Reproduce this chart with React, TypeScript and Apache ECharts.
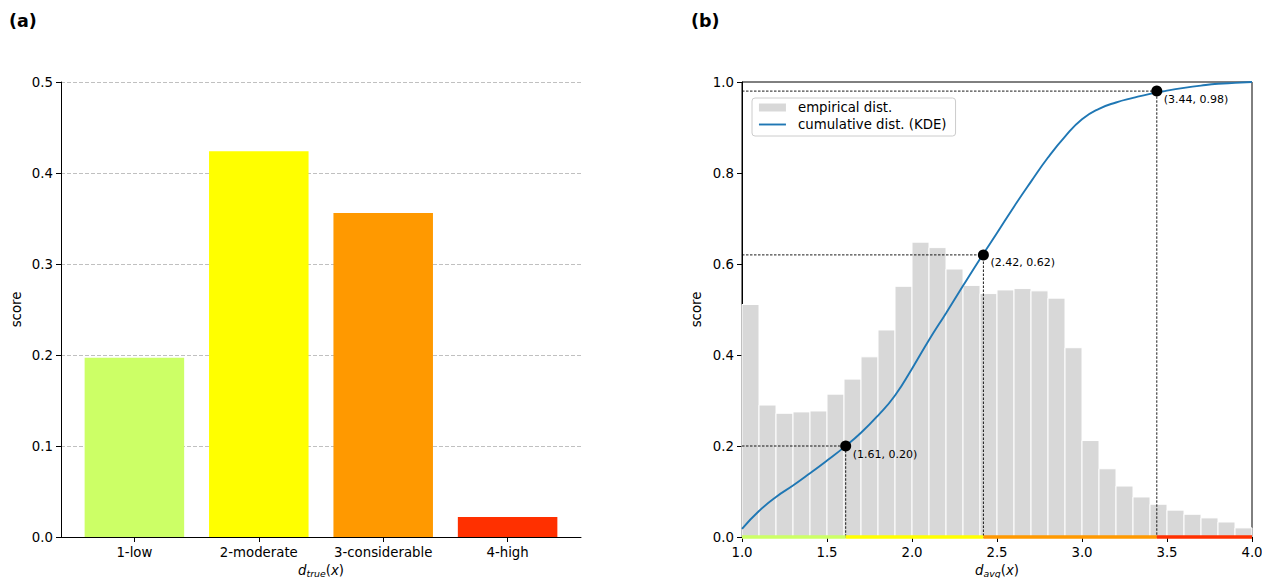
import React, { useEffect, useRef } from "react";
import * as echarts from "echarts";

// ---------- data: panel (a) ----------
const categories = ["1-low", "2-moderate", "3-considerable", "4-high"];
const trueScores = [0.197, 0.424, 0.356, 0.022];
const dangerColors = ["#ccff66", "#ffff00", "#ff9900", "#ff3000"];
const leftYTicks = [0, 0.1, 0.2, 0.3, 0.4, 0.5];

// ---------- data: panel (b) ----------
const histEdges = [
  1.0, 1.1, 1.2, 1.3, 1.4, 1.5, 1.6, 1.7, 1.8, 1.9, 2.0, 2.1, 2.2, 2.3, 2.4, 2.5,
  2.6, 2.7, 2.8, 2.9, 3.0, 3.1, 3.2, 3.3, 3.4, 3.5, 3.6, 3.7, 3.8, 3.9, 4.0,
];
const histValues = [
  0.511, 0.29, 0.272, 0.275, 0.277, 0.314, 0.347, 0.396, 0.455, 0.551, 0.648,
  0.636, 0.589, 0.553, 0.535, 0.543, 0.546, 0.541, 0.525, 0.416, 0.212, 0.15,
  0.112, 0.088, 0.072, 0.059, 0.05, 0.042, 0.033, 0.02,
];
const cdfX = [
  1.0, 1.1, 1.2, 1.3, 1.4, 1.5, 1.6, 1.7, 1.8, 1.9, 2.0, 2.1, 2.2, 2.3, 2.4, 2.5,
  2.6, 2.7, 2.8, 2.9, 3.0, 3.1, 3.2, 3.3, 3.4, 3.5, 3.6, 3.7, 3.8, 3.9, 4.0,
];
const cdfY = [
  0.018, 0.057, 0.088, 0.113, 0.14, 0.168, 0.197, 0.229, 0.267, 0.311, 0.37,
  0.433, 0.492, 0.552, 0.611, 0.668, 0.726, 0.781, 0.834, 0.88, 0.918, 0.941,
  0.955, 0.965, 0.974, 0.981, 0.987, 0.992, 0.996, 0.998, 1.0,
];
const thresholdX = [1.61, 2.42, 3.44];
const thresholdY = [0.2, 0.62, 0.98];
const rightXRange = [1.0, 4.0];
const rightYRange = [0, 1];

const FONT = "DejaVu Sans";
const FS = 13.3;

function mathName(base: string, sub: string) {
  return {
    text: `{i|${base}}{s|${sub}}{n|(}{i|x}{n|)}`,
    rich: {
      i: { fontFamily: FONT, fontStyle: "italic", fontSize: FS, lineHeight: 15, color: "#000" },
      n: { fontFamily: FONT, fontSize: FS, lineHeight: 15, color: "#000" },
      s: {
        fontFamily: FONT,
        fontStyle: "italic",
        fontSize: 9.4,
        lineHeight: 9,
        verticalAlign: "bottom",
        color: "#000",
      },
    },
  };
}

export default function App() {
  const ref = useRef<HTMLDivElement>(null);

  useEffect(() => {
    if (!ref.current) return;
    const chart = echarts.init(ref.current, null, { renderer: "svg" });

    const xName1 = mathName("d", "true");
    const xName2 = mathName("d", "avg");

    const axisLineStyle = { onZero: false, lineStyle: { color: "#000", width: 1 } };
    const tickStyle = { show: true, length: 5, lineStyle: { color: "#000", width: 1 } };
    const labelStyle = { color: "#000", fontFamily: FONT, fontSize: FS };

    // strip segments along the bottom of panel (b)
    const stripBounds = [rightXRange[0], ...thresholdX, rightXRange[1]];
    const stripSeries = dangerColors.map((c, i) => ({
      type: "line",
      xAxisIndex: 1,
      yAxisIndex: 1,
      data: [
        [stripBounds[i], 0],
        [stripBounds[i + 1], 0],
      ],
      symbol: "none",
      clip: false,
      silent: true,
      z: 6,
      lineStyle: { color: c, width: 3.5, cap: "butt" },
    }));

    const guideSeries = thresholdX.map((tx, i) => ({
      type: "line",
      xAxisIndex: 1,
      yAxisIndex: 1,
      data: [
        [rightXRange[0], thresholdY[i]],
        [tx, thresholdY[i]],
        [tx, 0],
      ],
      symbol: "none",
      silent: true,
      z: 4,
      lineStyle: { color: "#000", width: 0.9, type: [2.5, 1.5] },
    }));

    const titleStyle = { fontFamily: FONT, fontWeight: "bold", fontSize: 17.5, color: "#000" };

    const option: any = {
      animation: false,
      textStyle: { fontFamily: FONT },
      title: [
        { text: "(a)", left: 9, top: 12, padding: 0, textStyle: titleStyle },
        { text: "(b)", left: 691, top: 12, padding: 0, textStyle: titleStyle },
      ],
      legend: {
        left: 752,
        top: 98,
        orient: "vertical",
        padding: [3, 9, 5, 6],
        itemGap: 4,
        itemWidth: 27,
        itemHeight: 8,
        borderColor: "#cccccc",
        borderWidth: 1,
        borderRadius: 3,
        backgroundColor: "rgba(255,255,255,0.8)",
        textStyle: { fontFamily: FONT, fontSize: FS, color: "#000", padding: [0, 0, 0, 7] },
        data: [
          { name: "empirical dist.", icon: "rect", itemStyle: { color: "#d8d8d8" } },
          {
            name: "cumulative dist. (KDE)",
            itemStyle: { color: "rgba(0,0,0,0)", borderWidth: 0, opacity: 0 },
            lineStyle: { color: "#1f77b4", width: 1.9, opacity: 1 },
          },
        ],
      },
      grid: [
        { left: 61, top: 82, width: 520, height: 455, outerBoundsMode: "none", containLabel: false },
        {
          left: 742,
          top: 82,
          width: 510,
          height: 455,
          outerBoundsMode: "none",
          containLabel: false,
          show: true,
          borderColor: "#000",
          borderWidth: 1,
          backgroundColor: "transparent",
        },
      ],
      xAxis: [
        {
          type: "value",
          gridIndex: 0,
          min: -0.59,
          max: 3.59,
          splitLine: { show: false },
          axisLine: axisLineStyle,
          axisTick: { ...tickStyle, customValues: [0, 1, 2, 3] },
          axisLabel: {
            ...labelStyle,
            margin: 9,
            customValues: [0, 1, 2, 3],
            formatter: (v: number) => categories[Math.round(v)] ?? "",
          },
          name: xName1.text,
          nameLocation: "middle",
          nameGap: 23,
          nameTextStyle: { rich: xName1.rich },
        },
        {
          type: "value",
          gridIndex: 1,
          min: rightXRange[0],
          max: rightXRange[1],
          interval: 0.5,
          splitLine: { show: false },
          axisLine: axisLineStyle,
          axisTick: tickStyle,
          axisLabel: { ...labelStyle, margin: 9, formatter: (v: number) => v.toFixed(1) },
          name: xName2.text,
          nameLocation: "middle",
          nameGap: 23,
          nameTextStyle: { rich: xName2.rich },
        },
      ],
      yAxis: [
        {
          type: "value",
          gridIndex: 0,
          min: leftYTicks[0],
          max: leftYTicks[leftYTicks.length - 1],
          interval: 0.1,
          axisLine: { show: true, ...axisLineStyle },
          axisTick: tickStyle,
          axisLabel: { ...labelStyle, margin: 8, formatter: (v: number) => v.toFixed(1) },
          splitLine: {
            show: true,
            lineStyle: { color: "#b0b0b0", width: 0.8, type: [4, 2] },
          },
          name: "score",
          nameLocation: "middle",
          nameRotate: 90,
          nameGap: 38,
          nameTextStyle: { fontFamily: FONT, fontSize: FS, color: "#000" },
        },
        {
          type: "value",
          gridIndex: 1,
          min: rightYRange[0],
          max: rightYRange[1],
          interval: 0.2,
          axisLine: { show: true, ...axisLineStyle },
          axisTick: tickStyle,
          axisLabel: { ...labelStyle, margin: 8, formatter: (v: number) => v.toFixed(1) },
          splitLine: { show: false },
          name: "score",
          nameLocation: "middle",
          nameRotate: 90,
          nameGap: 39,
          nameTextStyle: { fontFamily: FONT, fontSize: FS, color: "#000" },
        },
      ],
      series: [
        {
          type: "custom",
          name: "danger",
          xAxisIndex: 0,
          yAxisIndex: 0,
          data: trueScores.map((v, i) => [i, v]),
          encode: { x: 0, y: 1 },
          renderItem: (params: any, api: any) => {
            const i = api.value(0);
            const v = api.value(1);
            const p0 = api.coord([i - 0.4, v]);
            const p1 = api.coord([i + 0.4, 0]);
            return {
              type: "rect",
              shape: { x: p0[0], y: p0[1], width: p1[0] - p0[0], height: p1[1] - p0[1] },
              style: { fill: dangerColors[params.dataIndex] },
            };
          },
        },
        {
          type: "custom",
          name: "empirical dist.",
          xAxisIndex: 1,
          yAxisIndex: 1,
          z: 2,
          data: histValues.map((h, i) => [histEdges[i], histEdges[i + 1], h]),
          encode: { x: [0, 1], y: 2 },
          itemStyle: { color: "#d8d8d8" },
          renderItem: (params: any, api: any) => {
            const p0 = api.coord([api.value(0), api.value(2)]);
            const p1 = api.coord([api.value(1), 0]);
            return {
              type: "rect",
              shape: { x: p0[0], y: p0[1], width: p1[0] - p0[0], height: p1[1] - p0[1] },
              style: { fill: "#d8d8d8", stroke: "#ffffff", lineWidth: 1 },
            };
          },
        },
        {
          type: "line",
          name: "cumulative dist. (KDE)",
          xAxisIndex: 1,
          yAxisIndex: 1,
          z: 3,
          data: cdfX.map((x, i) => [x, cdfY[i]]),
          symbol: "none",
          smooth: 0.5,
          itemStyle: { color: "#1f77b4" },
          lineStyle: { color: "#1f77b4", width: 1.9 },
        },
        ...guideSeries,
        {
          type: "scatter",
          name: "thresholds",
          xAxisIndex: 1,
          yAxisIndex: 1,
          z: 7,
          symbolSize: 11,
          itemStyle: { color: "#000", opacity: 1 },
          data: thresholdX.map((x, i) => [x, thresholdY[i]]),
          label: {
            show: true,
            position: [12.5, 13.5],
            align: "left",
            verticalAlign: "middle",
            fontFamily: FONT,
            fontSize: 11,
            color: "#000",
            formatter: (p: any) => `(${p.value[0].toFixed(2)}, ${p.value[1].toFixed(2)})`,
          },
        },
        ...stripSeries,
      ],
    };

    chart.setOption(option);
    return () => chart.dispose();
  }, []);

  return (
    <div
      ref={ref}
      style={{ position: "fixed", left: 0, top: 0, width: 1262, height: 578, background: "#fff" }}
    />
  );
}
